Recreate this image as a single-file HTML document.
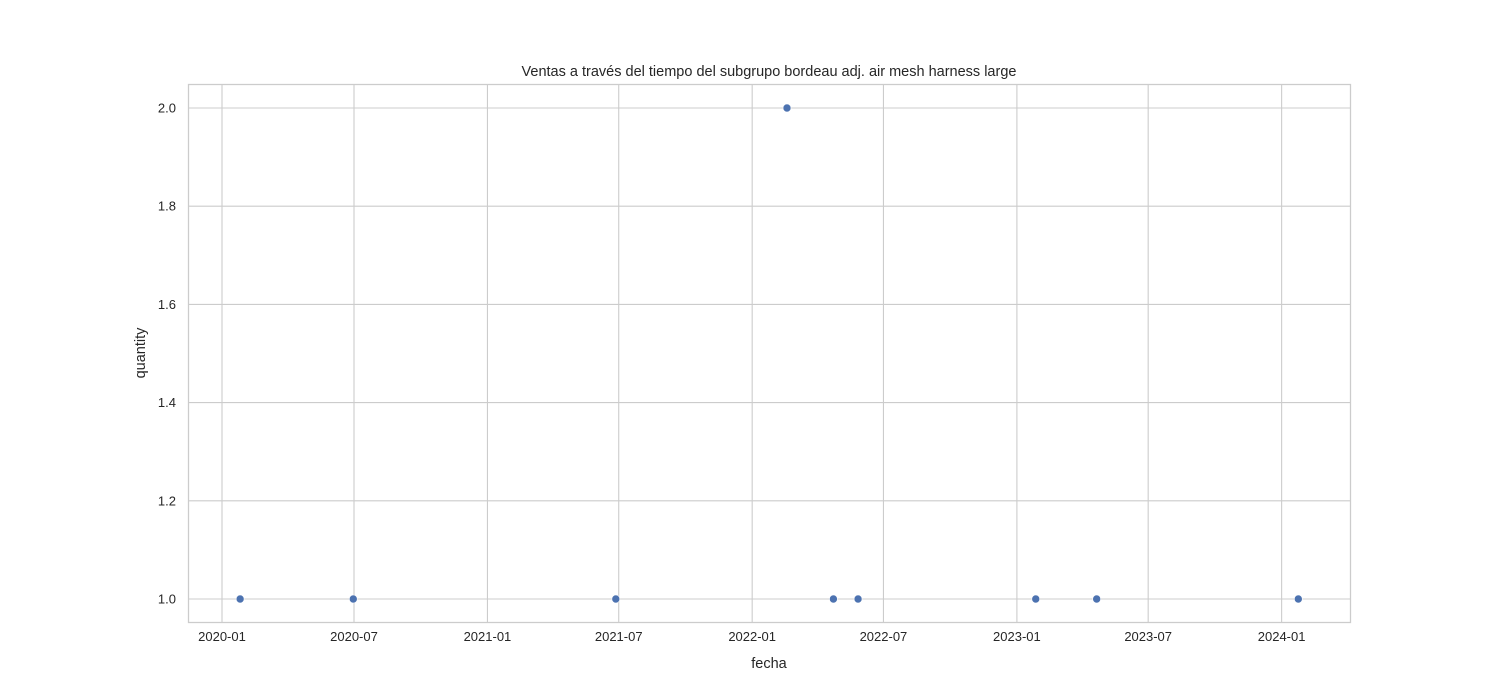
<!DOCTYPE html>
<html><head><meta charset="utf-8"><style>
body{margin:0;background:#fff;}
svg{display:block;font-family:"Liberation Sans","DejaVu Sans",sans-serif;}
</style></head><body>
<svg id="chart" width="1500" height="700">
<rect x="0" y="0" width="1500" height="700" fill="#fff"/>
<g id="grid"></g>
<g id="pts"></g>
<rect x="188.5" y="84.5" width="1162" height="538" fill="none" stroke="#ccc" stroke-width="1.3"/>
<text x="769" y="76" text-anchor="middle" font-size="14.5" fill="#262626">Ventas a través del tiempo del subgrupo bordeau adj. air mesh harness large</text>
<text x="769" y="668" text-anchor="middle" font-size="14.5" fill="#262626">fecha</text>
<text x="145" y="353" text-anchor="middle" font-size="14.5" fill="#262626" transform="rotate(-90 145 353)">quantity</text>
</svg>
<script>
const xTickLabels = ["2020-01","2020-07","2021-01","2021-07","2022-01","2022-07","2023-01","2023-07","2024-01"];
const yTicks = [1.0,1.2,1.4,1.6,1.8,2.0];
const dates = ["2020-01-26","2020-06-30","2021-06-27","2022-02-18","2022-04-23","2022-05-27","2023-01-27","2023-04-21","2024-01-24"];
const quantities = [1,1,1,2,1,1,1,1,1];

const NS="http://www.w3.org/2000/svg";
const t0=Date.UTC(2020,0,1), pxPerDay=132/182;
function xs(s){const d=new Date(s+(s.length===7?"-01":"")+"T00:00:00Z");return 222+(d-t0)/86400000*pxPerDay;}
function ys(v){return 599-(v-1)*491;}
const grid=document.getElementById('grid'), pts=document.getElementById('pts');
function mk(tag,attrs,parent){const e=document.createElementNS(NS,tag);for(const k in attrs)e.setAttribute(k,attrs[k]);parent.appendChild(e);return e;}
xTickLabels.forEach(l=>{
  const x=xs(l);
  const ln=mk('line',{x1:x,x2:x,y1:84,y2:622,stroke:'#ccc','stroke-width':1.1},grid);
  
  
  const t=mk('text',{x:x,y:641,'text-anchor':'middle','font-size':13,fill:'#262626'},grid);
  t.textContent=l;
  
  
});
yTicks.forEach(v=>{
  const y=ys(v);
  const ln=mk('line',{x1:188,x2:1350,y1:y,y2:y,stroke:'#ccc','stroke-width':1.1},grid);
  
  
  const t=mk('text',{x:176,y:y+4.5,'text-anchor':'end','font-size':13,fill:'#262626'},grid);
  t.textContent=v.toFixed(1);
  
  
});
dates.forEach((d,i)=>{
  const c=mk('circle',{cx:xs(d),cy:ys(quantities[i]),r:4,fill:'#4c72b0',stroke:'#fff','stroke-width':0.6},pts);
  
  
});
</script>
</body></html>
